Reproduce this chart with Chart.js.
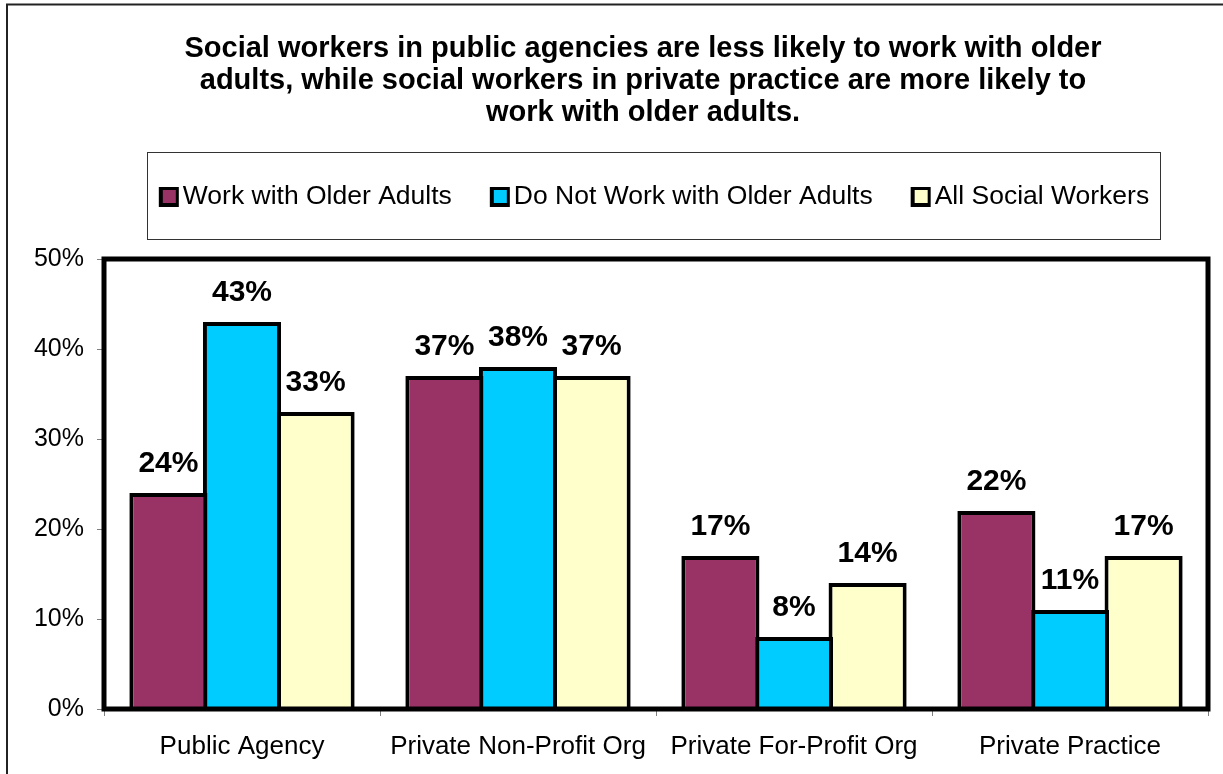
<!DOCTYPE html>
<html>
<head>
<meta charset="utf-8">
<title>Social workers and older adults</title>
<script src="https://cdn.jsdelivr.net/npm/chart.js@4.4.1/dist/chart.umd.min.js"></script>
<style>
  html, body { margin: 0; padding: 0; background: #fff; }
  canvas { display: block; }
</style>
</head>
<body>
<canvas id="grafica" width="1223" height="774"></canvas>
<script>
// Datos de la grafica
const categorias = ['Public Agency', 'Private Non-Profit Org', 'Private For-Profit Org', 'Private Practice'];
const conMayores = [24, 37, 17, 22];
const sinMayores = [43, 38, 8, 11];
const todos = [33, 37, 14, 17];
const nombresSeries = ['Work with Older Adults', 'Do Not Work with Older Adults', 'All Social Workers'];
const coloresSeries = ['#993366', '#00CCFF', '#FFFFCC'];
const ticksY = [0, 10, 20, 30, 40, 50];
const titulo = [
    'Social workers in public agencies are less likely to work with older',
    'adults, while social workers in private practice are more likely to',
    'work with older adults.'
];

const fuente = 'Arial, "Liberation Sans", sans-serif';

// Fondo blanco y el marco fino exterior
const fondoYMarco = {
    id: 'fondoYMarco',
    beforeDraw(chart) {
        const ctx = chart.ctx;
        ctx.save();
        ctx.fillStyle = '#fff';
        ctx.fillRect(0, 0, chart.width, chart.height);
        ctx.strokeStyle = '#222';
        ctx.lineWidth = 2;
        ctx.beginPath();
        ctx.moveTo(7, chart.height);
        ctx.lineTo(7, 4.5);
        ctx.lineTo(chart.width, 4.5);
        ctx.stroke();
        ctx.restore();
    }
};

// Titulo en tres lineas
const tituloPlugin = {
    id: 'tituloPlugin',
    afterDraw(chart) {
        const ctx = chart.ctx;
        ctx.save();
        ctx.font = 'bold 29px ' + fuente;
        ctx.fillStyle = '#000';
        ctx.textAlign = 'center';
        ctx.textBaseline = 'middle';
        titulo.forEach((linea, i) => {
            ctx.fillText(linea, 643, 49 + i * 32);
        });
        ctx.restore();
    }
};

// Leyenda dentro de una caja con borde
const leyendaPlugin = {
    id: 'leyendaPlugin',
    afterDraw(chart) {
        const ctx = chart.ctx;
        const caja = { x: 147.5, y: 152.5, w: 1013, h: 87 };
        ctx.save();
        ctx.strokeStyle = '#333';
        ctx.lineWidth = 1;
        ctx.strokeRect(caja.x, caja.y, caja.w, caja.h);

        ctx.font = '26.5px ' + fuente;
        const marca = 20;
        const separacion = 38;
        const anchos = chart.data.datasets.map(d => marca + 4 + ctx.measureText(d.label).width);
        const total = anchos.reduce((a, b) => a + b, 0) + separacion * (anchos.length - 1);
        let x = caja.x + caja.w / 2 - total / 2;
        const yMedio = caja.y + caja.h / 2 + 1;

        chart.data.datasets.forEach((d, i) => {
            ctx.fillStyle = '#000';
            ctx.fillRect(x, yMedio - marca / 2, marca, marca);
            ctx.fillStyle = d.backgroundColor;
            ctx.fillRect(x + 4, yMedio - marca / 2 + 3, marca - 7, marca - 7);
            ctx.fillStyle = '#000';
            ctx.textAlign = 'left';
            ctx.textBaseline = 'middle';
            ctx.fillText(d.label, x + marca + 4, yMedio);
            x += anchos[i] + separacion;
        });
        ctx.restore();
    }
};

// Borde grueso del area de trazado y etiquetas de valor
const areaYEtiquetas = {
    id: 'areaYEtiquetas',
    afterDatasetsDraw(chart) {
        const ctx = chart.ctx;
        const a = chart.chartArea;
        ctx.save();
        ctx.strokeStyle = '#000';
        ctx.lineWidth = 5;
        ctx.strokeRect(a.left, a.top, a.right - a.left, a.bottom - a.top);

        ctx.font = 'bold 30px ' + fuente;
        ctx.fillStyle = '#000';
        ctx.textAlign = 'center';
        ctx.textBaseline = 'alphabetic';
        chart.data.datasets.forEach((d, i) => {
            const meta = chart.getDatasetMeta(i);
            meta.data.forEach((barra, j) => {
                ctx.fillText(d.data[j] + '%', barra.x, barra.y - 21);
            });
        });
        ctx.restore();
    }
};

const series = [conMayores, sinMayores, todos];

new Chart(document.getElementById('grafica'), {
    type: 'bar',
    data: {
        labels: categorias,
        datasets: series.map((valores, i) => ({
            label: nombresSeries[i],
            data: valores,
            backgroundColor: coloresSeries[i],
            borderColor: '#000',
            borderWidth: 4,
            barPercentage: 1.061,
            categoryPercentage: 0.8
        }))
    },
    options: {
        responsive: false,
        animation: false,
        layout: { padding: { top: 259, right: 15, left: 0, bottom: 0 } },
        plugins: {
            legend: { display: false },
            title: { display: false },
            tooltip: { enabled: false }
        },
        scales: {
            x: {
                grid: { drawOnChartArea: false, tickLength: 7, color: '#808080', offset: true },
                border: { display: false },
                ticks: { font: { family: fuente, size: 26 }, color: '#000', padding: 15 },
                afterFit(escala) { escala.height = 65; }
            },
            y: {
                min: ticksY[0],
                max: ticksY[ticksY.length - 1],
                grid: { drawOnChartArea: false, tickLength: 7, color: '#808080' },
                border: { display: false },
                ticks: {
                    stepSize: ticksY[1] - ticksY[0],
                    font: { family: fuente, size: 25 },
                    color: '#000',
                    padding: 13,
                    callback: (v) => v + '%'
                },
                afterFit(escala) { escala.width = 104; }
            }
        }
    },
    plugins: [fondoYMarco, areaYEtiquetas, tituloPlugin, leyendaPlugin]
});
</script>
</body>
</html>
